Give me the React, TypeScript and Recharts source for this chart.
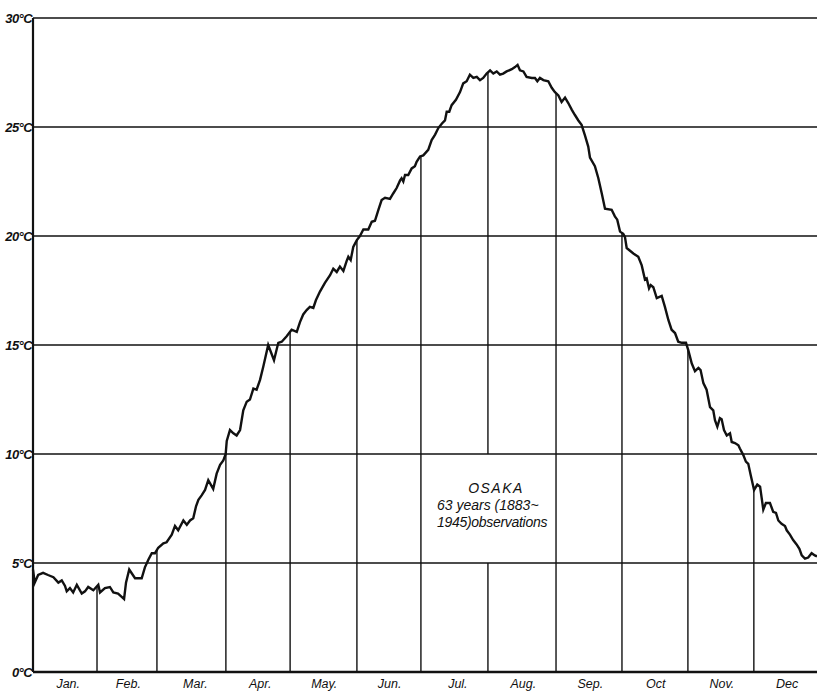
import { LineChart, Line, XAxis, YAxis, CartesianGrid, ReferenceLine } from "recharts";

// day of year (0..365) and mean air temperature (°C)
const days = [
  0, 0.8, 2.4, 4.7, 7, 9.5, 11.8, 13.4, 14.9, 15.7, 17.2, 18.7, 20.4, 22.7, 24.2, 25.7, 28.1, 30.4,
  31.2, 33.5, 35.8, 37.4, 39.6, 41.3, 42.4, 43.3, 44.8, 47.5, 50.6, 52.1, 53.7, 55.3, 56.8, 58.3,
  60.7, 62.2, 64.6, 66.1, 67.6, 70, 71.6, 73.1, 74.6, 75.9, 77, 78.5, 80.1, 81.6, 83.9, 85.5, 87.1,
  88.6, 89.7, 90.2, 91.7, 93.3, 94.8, 96.4, 97.9, 99.5, 101, 102.6, 104.1, 105.7, 107.2, 109.5,
  112.2, 114.2, 115.8, 118.1, 120.4, 122.8, 124.3, 125.8, 127.4, 128.9, 130.5, 131.7, 133.6, 135.9,
  138.3, 139.8, 141.4, 142.9, 144.5, 146, 146.8, 147.9, 149.1, 150.7, 152.2, 153.8, 156.1, 157.7,
  159.2, 160.8, 162.3, 163.9, 166.2, 167.7, 169.3, 170.9, 171.6, 172.4, 173.2, 174.7, 176.3, 177.8,
  178.6, 180.2, 181.7, 184, 185.6, 187.2, 188.7, 190.3, 191.8, 192.6, 193.8, 194.9, 196.9, 198.8,
  200.3, 201.9, 203.4, 205, 206.6, 208.1, 209.6, 211.2, 212.8, 214.3, 215.9, 217.4, 218.9, 220.5,
  222.9, 224.4, 225.6, 226.7, 228.3, 229.8, 232.2, 233.7, 234.8, 236, 237.6, 239.9, 241.5, 243,
  244.6, 246.1, 247.7, 249.2, 250.8, 252.3, 253.9, 255.4, 257, 258.5, 259.3, 261.6, 263.2, 264.8,
  266.3, 269.4, 270.9, 272, 273.3, 274.8, 275.6, 276.4, 279.5, 281.8, 283.4, 284.9, 285.7, 286.8,
  287.6, 288.8, 290.4, 292.7, 294.2, 295.8, 297.3, 298.9, 300.4, 302, 304, 305.1, 306.7, 308.2,
  309.8, 310.8, 312.1, 313.6, 315.2, 316.7, 317.5, 318.6, 319.8, 320.6, 321.7, 323, 324.5, 325.3,
  326.8, 328.4, 329.1, 330.7, 331.9, 333, 334.1, 335.7, 337.2, 338.5, 340, 341.2, 343.1, 344.6,
  345.9, 347, 348.5, 350.1, 350.9, 352.4, 353.9, 355.5, 356.8, 357.9, 359.4, 360.9, 362.5, 364, 365,
];
const temps = [
  4.7, 4.1, 4.45, 4.55, 4.45, 4.35, 4.1, 4.2, 3.95, 3.7, 3.85, 3.65, 4.0, 3.6, 3.7, 3.9, 3.75, 4.0,
  3.65, 3.85, 3.9, 3.65, 3.6, 3.45, 3.35, 4.1, 4.7, 4.3, 4.3, 4.8, 5.15, 5.45, 5.45, 5.7,
  5.9, 5.95, 6.3, 6.7, 6.5, 6.95, 6.75, 6.95, 7.05, 7.6, 7.9, 8.1, 8.35, 8.8, 8.4, 9.1, 9.5,
  9.7, 10.0, 10.6, 11.1, 10.95, 10.85, 11.1, 12.0, 12.4, 12.5, 13.0, 12.95, 13.4, 14.0, 15.0,
  14.3, 15.1, 15.15, 15.4, 15.7, 15.6, 16.05, 16.4, 16.6, 16.75, 16.7, 17.05, 17.45, 17.85,
  18.2, 18.5, 18.35, 18.6, 18.4, 18.85, 19.05, 18.9, 19.5, 19.8, 20.0, 20.3, 20.3, 20.65,
  20.7, 21.2, 21.65, 21.75, 21.7, 21.95, 22.2, 22.55, 22.65, 22.5, 22.8, 22.8, 23.1, 23.2,
  23.4, 23.65, 23.7, 23.95, 24.4, 24.65, 24.95, 25.15, 25.3, 25.7, 25.7, 26.0, 26.25, 26.6,
  27.0, 27.1, 27.4, 27.25, 27.3, 27.15, 27.25, 27.45, 27.6, 27.45, 27.55, 27.4, 27.45, 27.55,
  27.65, 27.75, 27.85, 27.6, 27.55, 27.3, 27.25, 27.25, 27.1, 27.25, 27.15, 27.1, 26.8, 26.6,
  26.45, 26.15, 26.35, 26.1, 25.8, 25.55, 25.3, 25.1, 24.6, 24.1, 23.6, 23.2, 22.65, 21.95,
  21.25, 21.2, 20.9, 20.75, 20.2, 20.1, 19.95, 19.45, 19.2, 19.05, 18.65, 18.0, 18.05, 17.6,
  17.75, 17.65, 17.15, 17.25, 16.75, 16.15, 15.7, 15.55, 15.15, 15.1, 15.1, 14.75, 14.15, 13.8,
  13.95, 13.85, 13.25, 12.95, 12.15, 12.0, 11.55, 11.25, 11.65, 11.6, 11.1, 10.85, 10.95, 10.55,
  10.5, 10.4, 10.25, 9.95, 9.65, 9.55, 9.05, 8.35, 8.6, 8.5, 7.45, 7.75, 7.75, 7.35,
  7.3, 6.95, 6.8, 6.7, 6.5, 6.3, 6.05, 5.85, 5.65, 5.35, 5.2, 5.25, 5.45, 5.35, 5.3,
];

const monthLabels = ["Jan.", "Feb.", "Mar.", "Apr.", "May.", "Jun.", "Jul.", "Aug.", "Sep.", "Oct", "Nov.", "Dec"];
const monthCenters = [16.4, 44.4, 75.6, 105.8, 135.6, 166, 197.8, 228.3, 259.5, 289.9, 320.7, 351.1];
const monthBounds = [29.8, 57.7, 89.8, 119.7, 150.8, 180.6, 211.8, 243.5, 274.2, 304.9, 335.6];
const yTicks = [0, 5, 10, 15, 20, 25, 30];

const data = days.map((d, i) => ({ day: d, temp: temps[i] }));

const FONT = "'Liberation Sans', Arial, sans-serif";

// curve height at a given day, so the month rules stop at the line
function tempAt(day: number) {
  for (let i = 1; i < days.length; i++) {
    if (days[i] >= day) {
      const t = (day - days[i - 1]) / (days[i] - days[i - 1]);
      return temps[i - 1] + t * (temps[i] - temps[i - 1]);
    }
  }
  return temps[temps.length - 1];
}

const YTick = (props: any) => {
  const { y, payload } = props;
  return (
    <text x={32} y={y} textAnchor="end" dominantBaseline="central" fontFamily={FONT}
      fontStyle="italic" fontWeight="bold" fontSize={13} letterSpacing={-0.6} fill="#111">
      {`${payload.value}°C`}
    </text>
  );
};

const XTick = (props: any) => {
  const { x, index } = props;
  return (
    <text x={x} y={684} textAnchor="middle" dominantBaseline="central" fontFamily={FONT}
      fontStyle="italic" fontSize={12.5} fill="#111">
      {monthLabels[index]}
    </text>
  );
};

export default function App() {
  return (
    <div style={{ position: "absolute", left: 0, top: 0, width: 817, height: 694, background: "#fff" }}>
      <LineChart width={817} height={694} data={data} margin={{ top: 18, right: 0, bottom: 0, left: 0 }}>
        <CartesianGrid vertical={false} stroke="#111" strokeWidth={1.4} />
        <XAxis
          type="number"
          dataKey="day"
          domain={[0, 365]}
          ticks={monthCenters}
          interval={0}
          tick={<XTick />}
          tickLine={false}
          axisLine={{ stroke: "#111", strokeWidth: 2.5 }}
          height={22}
        />
        <YAxis
          type="number"
          domain={[0, 30]}
          ticks={yTicks}
          interval={0}
          tick={<YTick />}
          tickLine={false}
          axisLine={{ stroke: "#111", strokeWidth: 2.2 }}
          width={33}
        />
        {monthBounds.map((b, i) =>
          i === 6 ? (
            [
              <ReferenceLine key={`a${i}`} segment={[{ x: b, y: 0 }, { x: b, y: 5 }]} stroke="#111" strokeWidth={1.4} />,
              <ReferenceLine key={`b${i}`} segment={[{ x: b, y: 10 }, { x: b, y: tempAt(b) }]} stroke="#111" strokeWidth={1.4} />,
            ]
          ) : (
            <ReferenceLine key={i} segment={[{ x: b, y: 0 }, { x: b, y: tempAt(b) }]} stroke="#111" strokeWidth={1.4} />
          )
        )}
        <Line type="linear" dataKey="temp" stroke="#111" strokeWidth={2.4} dot={false} isAnimationActive={false} />
      </LineChart>
      <div style={{ position: "absolute", left: 434, top: 480, width: 130, fontFamily: FONT, fontStyle: "italic", fontSize: 14, lineHeight: "17px", color: "#111" }}>
        <div style={{ textAlign: "center", letterSpacing: 1.5, paddingRight: 6 }}>OSAKA</div>
        <div style={{ paddingLeft: 3 }}>63 years (1883~</div>
        <div style={{ paddingLeft: 3, letterSpacing: -0.3 }}>1945)observations</div>
      </div>
    </div>
  );
}
